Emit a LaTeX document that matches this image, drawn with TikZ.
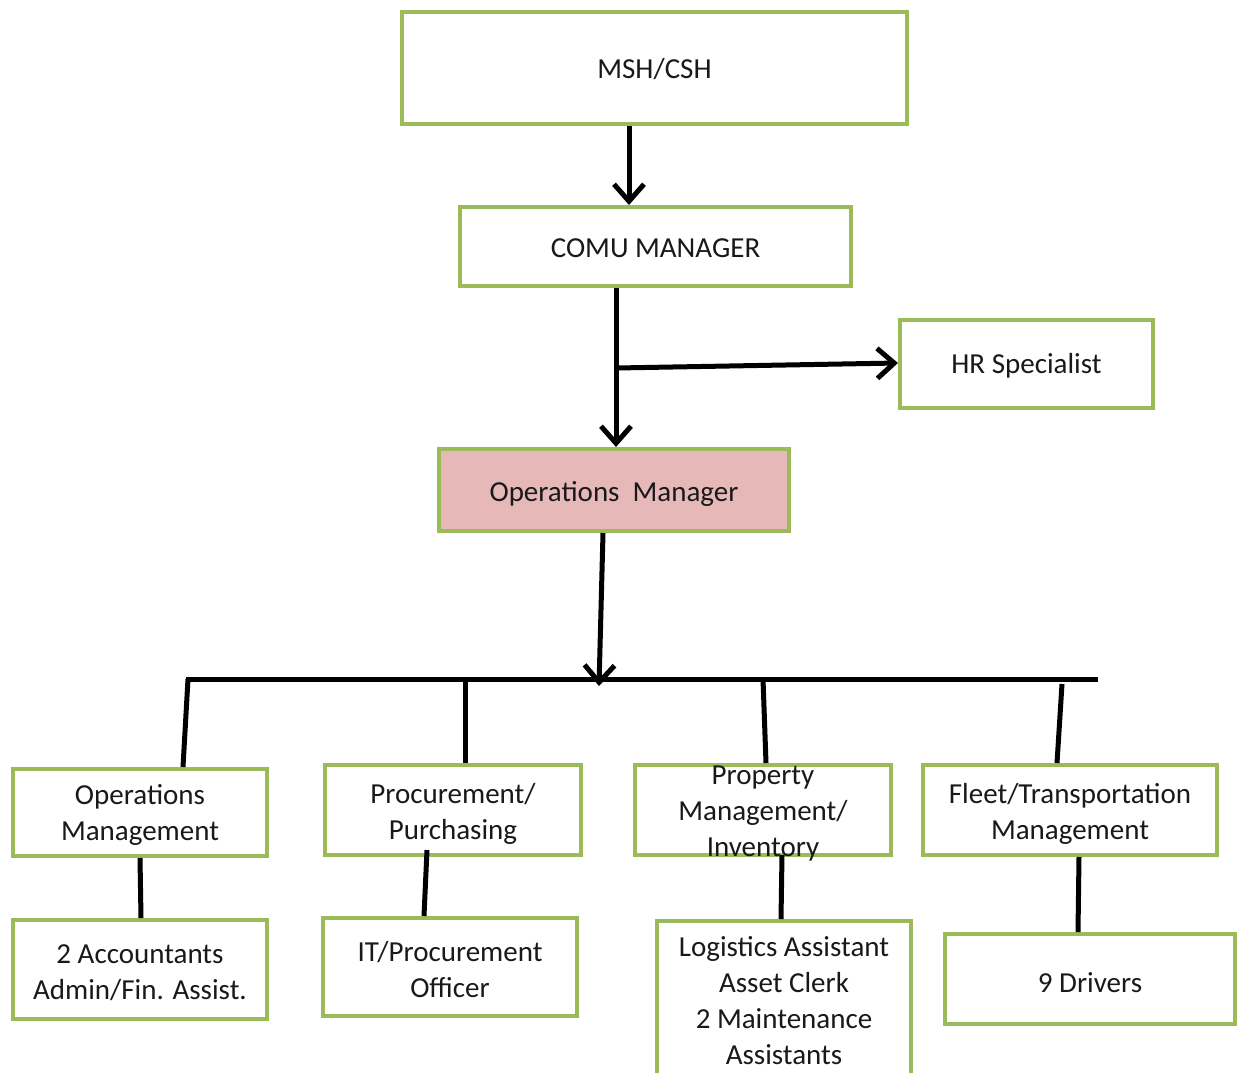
\documentclass[tikz,border=0pt]{standalone}
\usepackage{fontspec}
\setmainfont{Carlito}
\usetikzlibrary{arrows.meta}
\definecolor{boxgreen}{HTML}{9BBB59}
\definecolor{mgrpink}{HTML}{E6B9B8}
\begin{document}
\begin{tikzpicture}[x=1pt,y=-1pt,
  box/.style={draw=boxgreen, line width=4pt, fill=white, inner sep=0pt},
  txt/.style={align=center, font=\fontsize{29}{36}\selectfont, text=black!90, inner sep=0pt},
  conn/.style={line width=5pt, draw=black},
  arr/.style={conn, -{Straight Barb[length=17pt,width=30pt]}}]
\useasboundingbox (0,0) rectangle (1237,1072);
\begin{scope}
\clip (0,0) rectangle (1237,1072);
% boxes
\node[box, minimum width=505pt, minimum height=112pt] (msh) at (654.5,68) {};
\node[box, minimum width=391pt, minimum height=79pt] (comu) at (655.5,246.5) {};
\node[box, minimum width=253pt, minimum height=88pt] (hr) at (1026.5,364) {};
\node[box, fill=mgrpink, minimum width=350pt, minimum height=82pt] (opsmgr) at (614,490) {};
\node[box, minimum width=254pt, minimum height=87pt] (om) at (140,812.5) {};
\node[box, minimum width=256pt, minimum height=90pt] (proc) at (453,810) {};
\node[box, minimum width=256pt, minimum height=90pt] (prop) at (763,810) {};
\node[box, minimum width=294pt, minimum height=90pt] (fleet) at (1070,810) {};
\node[box, minimum width=254pt, minimum height=99pt] (acc) at (140,969.5) {};
\node[box, minimum width=254pt, minimum height=98pt] (it) at (450,967) {};
\node[box, minimum width=254pt, minimum height=177pt] (log) at (784,1009.5) {};
\node[box, minimum width=290pt, minimum height=90pt] (drv) at (1090,979) {};
% texts
\node[txt] (tmsh) at ([yshift=-1.5pt]msh.center) {MSH/CSH};
\node[txt] (tcomu) at ([yshift=-1.5pt]comu.center) {COMU MANAGER};
\node[txt] (thr) at ([yshift=-1.5pt]hr.center) {HR Specialist};
\node[txt] (tops) at ([yshift=-4pt]opsmgr.center) {Operations\ \ Manager};
\node[txt] (tom) at ([yshift=-2.5pt]om.center) {Operations\\Management};
\node[txt] (tproc) at ([yshift=-3.5pt]proc.center) {Procurement/\\Purchasing};
\node[txt] (tprop) at ([yshift=-3.5pt]prop.center) {Property\\Management/\\Inventory};
\node[txt] (tfleet) at ([yshift=-3.5pt]fleet.center) {Fleet/Transportation\\Management};
\node[txt] (tacc) at ([yshift=-3pt]acc.center) {2 Accountants\\Admin/Fin. Assist.};
\node[txt] (tit) at ([yshift=-3pt]it.center) {IT/Procurement\\Officer};
\node[txt] (tlog) at ([yshift=8.5pt]log.center) {Logistics Assistant\\Asset Clerk\\2 Maintenance\\Assistants};
\node[txt] (tdrv) at ([yshift=-3.5pt]drv.center) {9 Drivers};
% coordinates
\coordinate (x629) at (629,0);
\coordinate (x616) at (616,0);
\coordinate (hrjoin) at (616,368);
\coordinate (busL) at (188,679);
\coordinate (busR) at (1095,679);
\coordinate (busP) at (465,679);
\coordinate (busQ) at (763,679);
\coordinate (busF) at (1062,684);
\coordinate (busArr) at (599,686);
% connectors
\draw[arr] (x629 |- msh.south) -- (x629 |- comu.north);
\draw[arr] (x616 |- comu.south) -- (x616 |- opsmgr.north);
\draw[arr] (hrjoin) -- ([yshift=1pt]hr.west);
\draw[arr] ([xshift=-11pt]opsmgr.south) -- (busArr);
\draw[conn] ([xshift=-2.5pt]busL) -- ([xshift=2.5pt]busR);
\draw[conn] (busL) -- ([xshift=43pt]om.north);
\draw[conn] (busP) -- ([xshift=12pt]proc.north);
\draw[conn] (busQ) -- ([xshift=3pt]prop.north);
\draw[conn] (busF) -- ([xshift=-13pt]fleet.north);
\draw[conn] (om.south) -- ([xshift=1pt]acc.north);
\draw[conn] ([xshift=-26pt,yshift=7pt]proc.south) -- ([xshift=-26pt]it.north);
\draw[conn] ([xshift=19pt,yshift=2pt]prop.south) -- ([xshift=-3pt]log.north);
\draw[conn] ([xshift=9pt]fleet.south) -- ([xshift=-12pt]drv.north);
\end{scope}
\end{tikzpicture}
\end{document}
